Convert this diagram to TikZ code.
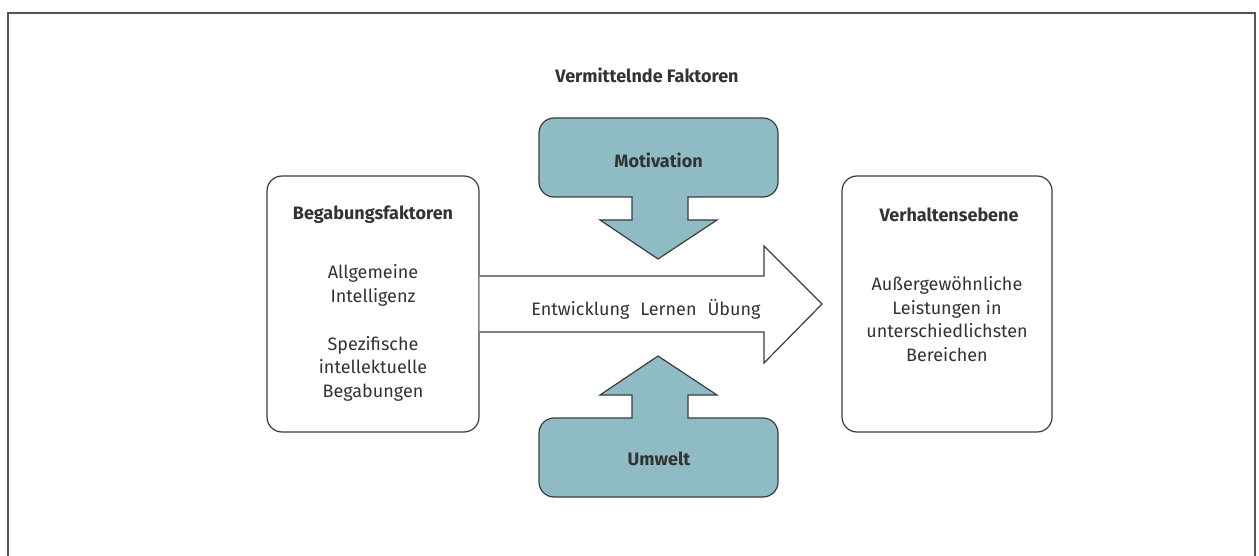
\documentclass[tikz,border=0pt]{standalone}
\usepackage{fontspec}
\setmainfont{Fira Sans}
\definecolor{txt}{HTML}{333333}
\definecolor{ln}{HTML}{3C3C3C}
\definecolor{teal}{HTML}{8FBCC4}
\definecolor{frame}{HTML}{555555}
\begin{document}
\begin{tikzpicture}[x=1pt,y=-1pt,
  lbl/.style={text=txt,font=\fontsize{18}{23.8}\selectfont,align=center,inner sep=0pt},
  head/.style={lbl,font=\fontsize{18}{23.8}\selectfont\bfseries},
  whitebox/.style={draw=ln,line width=1.2pt,rounded corners=15pt,fill=white,inner sep=0pt},
  tealbox/.style={draw=ln,line width=1.2pt,rounded corners=15pt,fill=teal,inner sep=0pt},
  shape line/.style={draw=ln,line width=1.2pt,line join=miter}]
\useasboundingbox (0,0) rectangle (1259,556);
% outer frame (bottom edge not shown)
\draw[frame,line width=1.8pt] (8,560) -- (8,13) -- (1255,13) -- (1255,560);

% side boxes
\node[whitebox,minimum width=212pt,minimum height=256pt] (lbox) at (373,304) {};
\node[whitebox,minimum width=210pt,minimum height=256pt] (rbox) at (947,304) {};

% big white arrow from left box toward right box
\coordinate (tip) at (822,304);
\filldraw[shape line,fill=white] (lbox.east |- 0,276) -- (764,276) -- (764,246) -- (tip)
   -- (764,363) -- (764,332) -- (lbox.east |- 0,332);

% Motivation box with down arrow
\node[tealbox,minimum width=239pt,minimum height=79pt] (mot) at (658.5,157.5) {};
\filldraw[shape line,fill=teal] (632,197) -- (632,220) -- (600,220) -- (658,259) -- (717,220) -- (688,220) -- (688,197);
\fill[teal] (632.7,194) rectangle (687.3,199);

% Umwelt box with up arrow
\node[tealbox,minimum width=239pt,minimum height=79pt] (umw) at (658.5,457.5) {};
\filldraw[shape line,fill=teal] (632,418) -- (632,395) -- (600,395) -- (658,356) -- (717,395) -- (688,395) -- (688,418);
\fill[teal] (632.7,416) rectangle (687.3,421);

% texts
\node[head] (vf) at (647,75) {Vermittelnde Faktoren};
\node[head] (motl) at (658.5,160) {Motivation};
\node[head] (umwl) at (659,459) {Umwelt};
\node[head] (bf) at (373,215) {Begabungsfaktoren};
\node[lbl] (bfl) at (373,333) {Allgemeine\\Intelligenz\\[23.8pt]Spezifische\\intellektuelle\\Begabungen};
\node[head] (vh) at (949,215) {Verhaltensebene};
\node[lbl] (vhl) at (947,319) {Außergewöhnliche\\Leistungen in\\unterschiedlichsten\\Bereichen};
\node[lbl] (elu) at (646,309) {Entwicklung\hspace{11pt}Lernen\hspace{11pt}Übung};
\end{tikzpicture}
\end{document}
